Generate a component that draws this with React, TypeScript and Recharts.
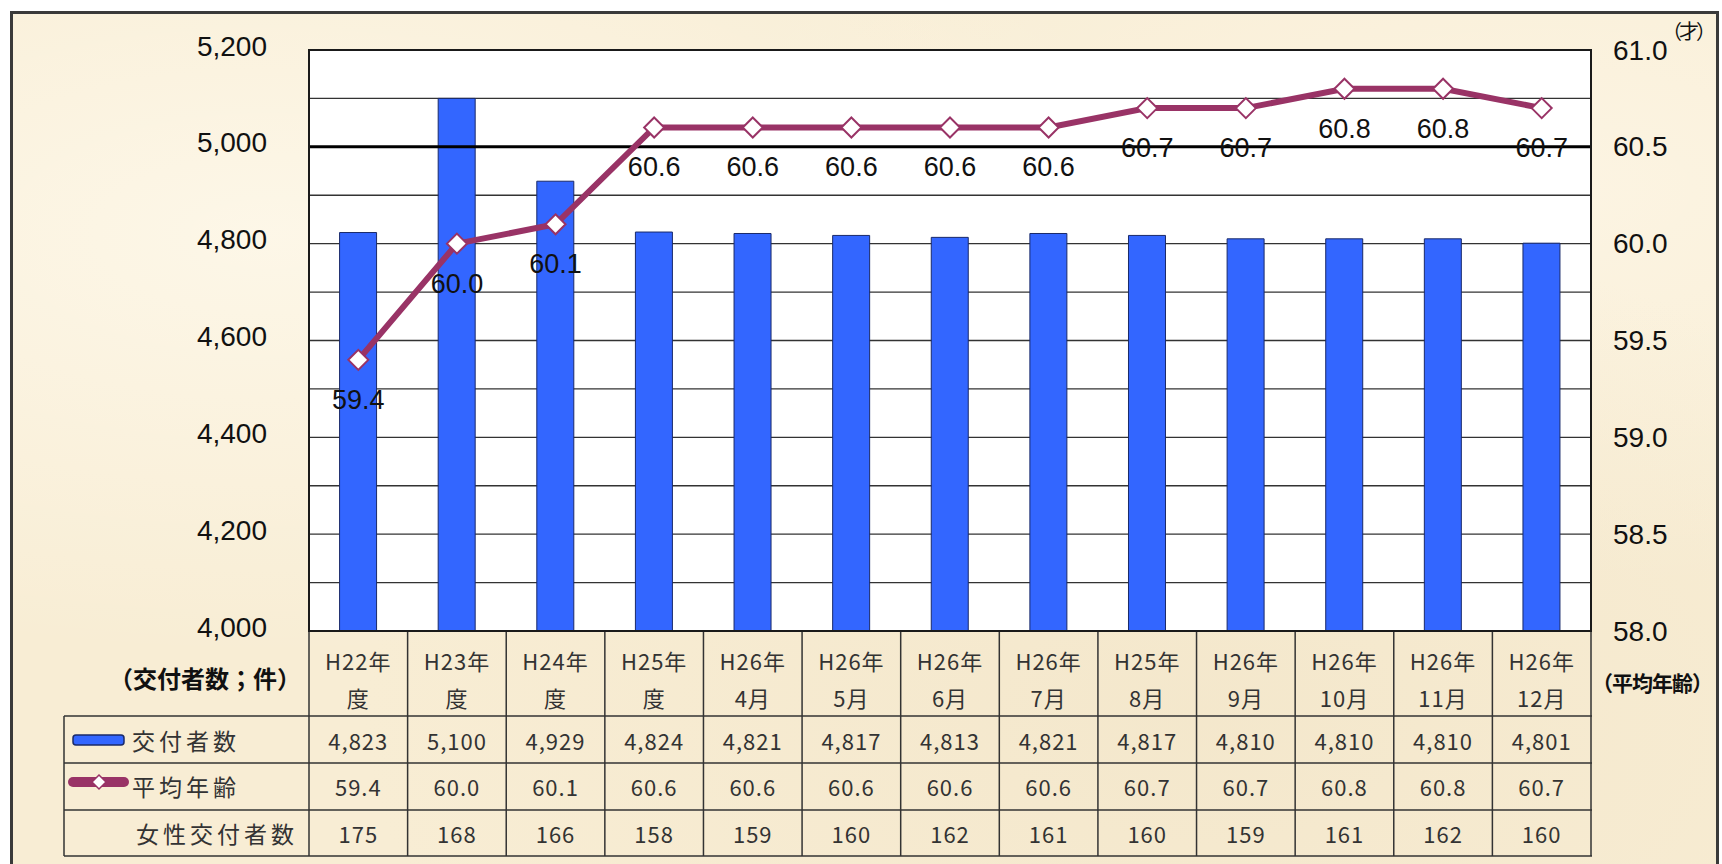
import React from 'react';
import {
  ComposedChart,
  Bar,
  Line,
  XAxis,
  YAxis,
  CartesianGrid,
  ReferenceLine,
  LabelList,
} from 'recharts';

// period labels, split in the two lines shown in the table header
const periodTop = ['H22年', 'H23年', 'H24年', 'H25年', 'H26年', 'H26年', 'H26年', 'H26年', 'H25年', 'H26年', 'H26年', 'H26年', 'H26年'];
const periodBottom = ['度', '度', '度', '度', '4月', '5月', '6月', '7月', '8月', '9月', '10月', '11月', '12月'];
const issuedCount = [4823, 5100, 4929, 4824, 4821, 4817, 4813, 4821, 4817, 4810, 4810, 4810, 4801];
const averageAge = [59.4, 60.0, 60.1, 60.6, 60.6, 60.6, 60.6, 60.6, 60.7, 60.7, 60.8, 60.8, 60.7];
const femaleCount = [175, 168, 166, 158, 159, 160, 162, 161, 160, 159, 161, 162, 160];
const countTicks = [4000, 4100, 4200, 4300, 4400, 4500, 4600, 4700, 4800, 4900, 5000, 5100, 5200];
const ageTicks = [58.0, 58.5, 59.0, 59.5, 60.0, 60.5, 61.0];

const rows = periodTop.map((p, i) => ({
  period: `${p}${periodBottom[i]}`,
  count: issuedCount[i],
  age: averageAge[i],
}));

const W = 1722;
const H = 864;
const PLOT_L = 309;
const PLOT_R = 1591;
const PLOT_T = 50;
const PLOT_B = 631;
const BAND = (PLOT_R - PLOT_L) / rows.length;

const BLUE = '#3366ff';
const PLUM = '#993366';
const LINE_C = '#333';
const NUM_FONT = "'Liberation Sans', Arial, sans-serif";
const JP_FONT = "'Noto Sans CJK JP', 'Noto Sans', sans-serif";

// table row geometry
const HEAD_BOTTOM = 716;
const ROW1_BOTTOM = 763;
const ROW2_BOTTOM = 810;
const TABLE_BOTTOM = 856;
const TABLE_L = 64;

const CountTick = ({ y, payload }: any) => {
  if (payload.value % 200 !== 0) return <g />;
  return (
    <text x={267} y={y - 4} textAnchor="end" dominantBaseline="central" fontSize={28} fontFamily={NUM_FONT} fill="#111">
      {payload.value.toLocaleString('en-US')}
    </text>
  );
};

const AgeTick = ({ y, payload }: any) => (
  <text x={1613} y={y} textAnchor="start" dominantBaseline="central" fontSize={28} fontFamily={NUM_FONT} fill="#111">
    {Number(payload.value).toFixed(1)}
  </text>
);

const cellText = (x: number, y: number, s: string, extra: any = {}) => (
  <text
    x={x}
    y={y}
    textAnchor="middle"
    dominantBaseline="central"
    fontSize={22}
    fontFamily={JP_FONT}
    fill="#333"
    letterSpacing={1}
    {...extra}
  >
    {s}
  </text>
);

// each x tick draws one column of the data table under the plot
const TableColumn = ({ x, index }: any) => {
  const left = x - BAND / 2;
  const last = index === rows.length - 1;
  return (
    <g>
      <line x1={left} x2={left} y1={PLOT_B} y2={TABLE_BOTTOM} stroke={LINE_C} strokeWidth={1.5} />
      {last && <line x1={left + BAND} x2={left + BAND} y1={PLOT_B} y2={TABLE_BOTTOM} stroke={LINE_C} strokeWidth={1.5} />}
      {cellText(x, 660, periodTop[index])}
      {cellText(x, 697, periodBottom[index])}
      {cellText(x, 740, issuedCount[index].toLocaleString('en-US'))}
      {cellText(x, 786, averageAge[index].toFixed(1))}
      {cellText(x, 833, String(femaleCount[index]))}
      {index === 0 && (
        <g>
          {[HEAD_BOTTOM, ROW1_BOTTOM, ROW2_BOTTOM, TABLE_BOTTOM].map((yy) => (
            <line key={yy} x1={TABLE_L} x2={PLOT_R + 1} y1={yy} y2={yy} stroke={LINE_C} strokeWidth={1.5} />
          ))}
          <line x1={TABLE_L} x2={TABLE_L} y1={HEAD_BOTTOM} y2={TABLE_BOTTOM} stroke={LINE_C} strokeWidth={1.5} />
          <rect x={73} y={735} width={51} height={10} rx={3} fill={BLUE} stroke="#1a2a6a" strokeWidth={1.5} />
          <line x1={73} x2={124} y1={782} y2={782} stroke={PLUM} strokeWidth={10} strokeLinecap="round" />
          <polygon points="99,775 106,782 99,789 92,782" fill="#fff" stroke={PLUM} strokeWidth={1.5} />
          {cellText(132, 740, '交付者数', { textAnchor: 'start', fontSize: 23, letterSpacing: 4 })}
          {cellText(132, 786, '平均年齢', { textAnchor: 'start', fontSize: 23, letterSpacing: 4 })}
          {cellText(298, 833, '女性交付者数', { textAnchor: 'end', fontSize: 23, letterSpacing: 4 })}
        </g>
      )}
    </g>
  );
};

const Diamond = ({ cx, cy }: any) => (
  <polygon
    points={`${cx},${cy - 10} ${cx + 10},${cy} ${cx},${cy + 10} ${cx - 10},${cy}`}
    fill="#fff"
    stroke={PLUM}
    strokeWidth={2}
  />
);

const AgeLabel = ({ x, y, value }: any) => (
  <text x={x} y={y + 40} textAnchor="middle" dominantBaseline="central" fontSize={27} fontFamily={NUM_FONT} fill="#111">
    {Number(value).toFixed(1)}
  </text>
);

export default function App() {
  return (
    <div style={{ position: 'relative', width: W, height: H, background: '#fff', overflow: 'hidden' }}>
      <style>{'body{margin:0}'}</style>
      <div
        style={{
          position: 'absolute',
          left: 10,
          top: 11,
          width: 1703,
          height: 880,
          border: '3px solid #3a3a3a',
          overflow: 'hidden',
          background:
            'radial-gradient(ellipse at 15% 25%, rgba(255,251,240,0.7), transparent 45%), radial-gradient(ellipse at 70% 80%, rgba(240,226,196,0.5), transparent 50%), radial-gradient(ellipse at 90% 20%, rgba(255,249,236,0.6), transparent 40%), #f8edd4',
        }}
      >
        <div style={{ position: 'absolute', left: -13, top: -14, width: W, height: H }}>
          <ComposedChart width={W} height={H} data={rows} margin={{ top: PLOT_T, right: 0, bottom: 0, left: 0 }} barCategoryGap="31%">
            <CartesianGrid vertical={false} yAxisId="count" stroke="#333" strokeWidth={1.3} fill="#fff" />
            <XAxis
              dataKey="period"
              height={H - PLOT_B}
              interval={0}
              tickLine={false}
              axisLine={false}
              tickSize={0}
              tick={<TableColumn />}
            />
            <YAxis
              yAxisId="count"
              orientation="left"
              width={PLOT_L}
              domain={[4000, 5200]}
              ticks={countTicks}
              interval={0}
              allowDataOverflow
              tickLine={false}
              axisLine={false}
              tick={<CountTick />}
            />
            <YAxis
              yAxisId="age"
              orientation="right"
              width={W - PLOT_R}
              domain={[58, 61]}
              ticks={ageTicks}
              interval={0}
              allowDataOverflow
              tickLine={false}
              axisLine={false}
              tick={<AgeTick />}
            />
            <ReferenceLine yAxisId="count" y={5000} stroke="#000" strokeWidth={3} />
            <Bar yAxisId="count" dataKey="count" fill={BLUE} stroke="#1a2a6a" strokeWidth={1} isAnimationActive={false} />
            <Line
              yAxisId="age"
              dataKey="age"
              stroke={PLUM}
              strokeWidth={6}
              dot={(p: any) => <Diamond key={p.index} cx={p.cx} cy={p.cy} />}
              activeDot={false}
              isAnimationActive={false}
            >
              <LabelList dataKey="age" content={<AgeLabel />} />
            </Line>
          </ComposedChart>
          <div
            style={{
              position: 'absolute',
              left: PLOT_L - 1,
              top: PLOT_T - 1,
              width: PLOT_R - PLOT_L + 2,
              height: PLOT_B - PLOT_T + 2,
              border: '2px solid #1a1a1a',
              boxSizing: 'border-box',
              pointerEvents: 'none',
            }}
          />
          <div style={{ position: 'absolute', left: 80, top: 662, width: 250, textAlign: 'center', fontFamily: JP_FONT, fontWeight: 700, fontSize: 24, color: '#111', lineHeight: '32px' }}>
            （交付者数；件）
          </div>
          <div style={{ position: 'absolute', left: 1592, top: 666, whiteSpace: 'nowrap', fontFamily: JP_FONT, fontWeight: 700, fontSize: 21, letterSpacing: -1, color: '#111', lineHeight: '32px' }}>
            （平均年齢）
          </div>
          <div style={{ position: 'absolute', left: 1662, top: 16, whiteSpace: 'nowrap', fontFamily: JP_FONT, fontSize: 20, letterSpacing: -3, color: '#111', lineHeight: '30px' }}>
            （才）
          </div>
        </div>
      </div>
    </div>
  );
}
